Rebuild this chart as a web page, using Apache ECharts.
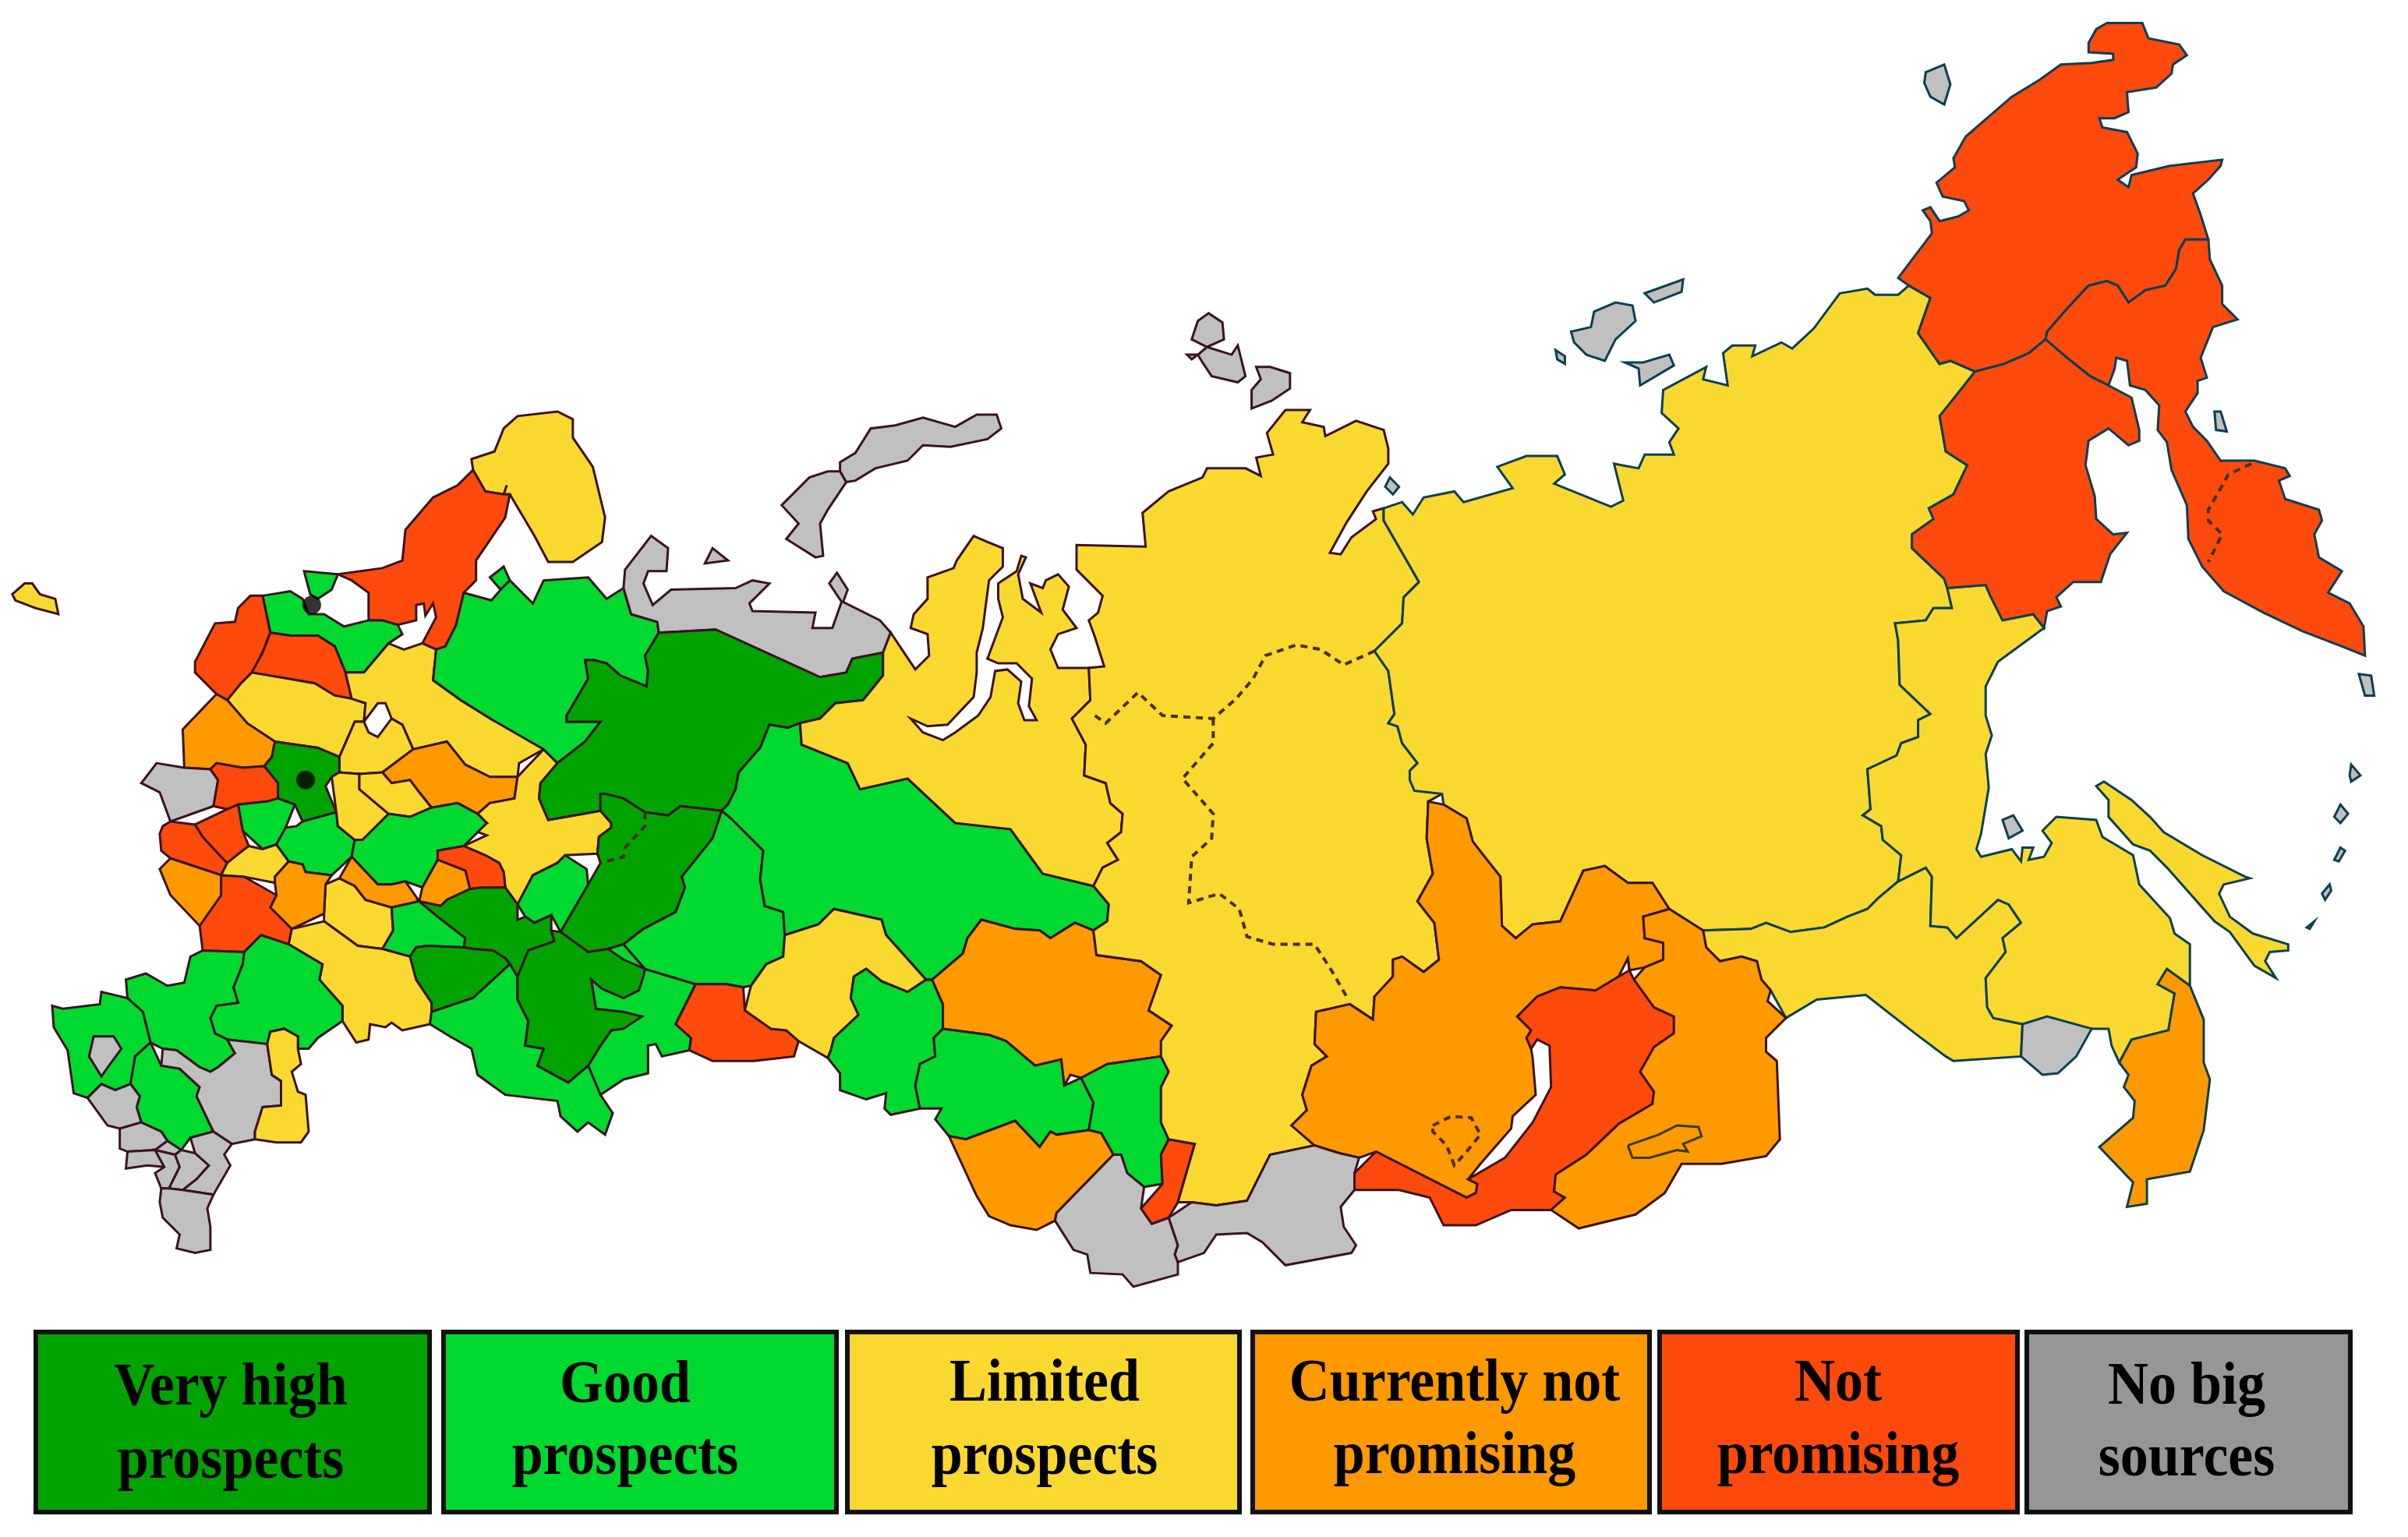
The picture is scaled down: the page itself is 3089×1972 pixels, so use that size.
<!DOCTYPE html>
<html>
<head>
<meta charset="utf-8">
<title>Prospects by region</title>
<style>
html, body { margin: 0; padding: 0; background: #fff; }
#map { width: 3089px; height: 1972px; }
</style>
<script src="https://cdn.jsdelivr.net/npm/echarts@6/dist/echarts.min.js"></script>
</head>
<body>
<div id="map"></div>
<script>
// legend text, one entry per grade
var gradeLabels = [
    ['Very high', 'prospects'],
    ['Good', 'prospects'],
    ['Limited', 'prospects'],
    ['Currently not', 'promising'],
    ['Not', 'promising'],
    ['No big', 'sources']
];

// which regions belong to which grade (index in gradeLabels)
var veryHighRegions = ['Komi', 'Perm', 'Tatarstan', 'Samara', 'Bashkortostan', 'Moscow'];
var goodRegions = ['Arkhangelsk', 'Solovki', 'Leningrad', 'Ladoga', 'Smolensk', 'Tula', 'NizhnyNovgorod', 'Ulyanovsk', 'Udmurtia',
    'Saratov', 'Sverdlovsk', 'Chelyabinsk', 'UfaEast', 'Rostov', 'Stavropol', 'Krasnodar', 'KubanSouth', 'Tyumen', 'Omsk', 'Novosibirsk', 'Tomsk'];
var limitedRegions = ['Kaliningrad', 'Kola', 'Tver', 'Vologda', 'Yaroslavl', 'Ivanovo', 'Ryazan', 'Kirov', 'Orel', 'Penza', 'Volgograd', 'Astrakhan',
    'YamalKhanty', 'Kurgan', 'Krasnoyarsk', 'Sakha', 'Amur', 'Khabarovsk', 'Sakhalin'];
var notYetRegions = ['Pskovsouth', 'Kostroma', 'Lipetsk', 'Kursk', 'Mordovia', 'Tambov', 'Kemerovo', 'AltaiKrai', 'Irkutsk', 'Chita', 'Primorye'];
var notRegions = ['Karelia', 'Pskov', 'Novgorod', 'Kaluga', 'Bryansk', 'Oryol', 'Voronezh', 'Chuvashia', 'Orenburg', 'Khakassia', 'Buryatia',
    'Chukotka', 'Koryak', 'Magadan'];
var noSourceRegions = ['Belarus', 'Azov', 'Kalmykia', 'Caucasus1', 'Caucasus2', 'Caucasus3', 'Caucasus4', 'Caucasus5', 'Caucasus6', 'Dagestan',
    'Nenets', 'NovayaN', 'NovayaS', 'Kolguev', 'Altai', 'Tuva', 'JewishAO', 'Wrangel', 'Shantar', 'Kuril1', 'Kuril2', 'Kuril3', 'Kuril4', 'Kuril5', 'Kuril6', 'Kuril7',
    'Sever1', 'Sever2', 'Sever3', 'Sever4', 'Sib1', 'Sib2', 'Sib3', 'Sib4', 'Vilkitsky'];
var regionsByGrade = [veryHighRegions, goodRegions, limitedRegions, notYetRegions, notRegions, noSourceRegions];

// the two black city dots
var cityPoints = [[203, 394], [199, 508]];

// colours
var gradeColors = ['#00A300', '#00D92F', '#F9D92F', '#FF9900', '#FF4A0D', '#C0C0C0'];
var swatchColors = ['#00A300', '#00D92F', '#F9D92F', '#FF9900', '#FF4A0D', '#969696'];

// region outlines (1568 x 1001 frame), later ones paint over earlier ones
var outlines = {
    Kaliningrad: '8,387 16,380 21,380 26,387 36,390 38,400 23,396 10,391',
    Kola: '307,299 322,294 328,279 337,271 363,268 373,273 373,285 386,304 394,337 392,353 373,366 357,366 348,349 332,322 330,316 328,322 316,320 308,306',
    Karelia: '308,306 316,320 328,323 329,337 310,365 310,378 302,386 297,407 290,421 275,419 284,402 282,393 277,401 276,393 271,394 271,404 259,407 249,404 240,404 240,386 229,378 220,374 249,370 262,365 264,345 282,324 298,316',
    Solovki: '328,369 332,378 326,384 319,376',
    Ladoga: '198,372 219,372 216,384 207,390 202,387',
    Leningrad: '171,388 189,385 197,390 201,400 211,400 224,408 250,404 259,407 262,413 253,419 237,438 225,438 218,421 207,414 189,414 176,412',
    Pskov: '163,388 171,388 176,412 171,425 164,438 157,445 148,456 141,452 127,438 127,431 140,406 153,405 155,396',
    Novgorod: '176,412 189,414 207,414 218,421 225,438 229,455 218,453 205,445 166,439 171,425',
    Tver: '166,439 205,445 218,453 238,458 237,470 228,477 221,493 207,487 179,483 161,471 149,459 157,445',
    Pskovsouth: '141,456 149,459 161,471 179,483 177,493 172,499 158,500 141,497 137,501 120,500 119,475',
    Vologda: '237,458 229,455 225,438 237,438 253,419 263,423 273,419 284,423 282,443 300,456 321,469 342,472 354,488 338,497 337,506 319,506 303,498 291,483 269,488 262,472 255,468 251,458 246,458 240,468',
    Yaroslavl: '231,470 240,477 246,480 255,470 262,472 268,489 249,503 234,504 221,503 221,493',
    Kostroma: '269,488 291,483 303,498 319,506 335,508 335,520 319,523 311,530 298,523 281,526 273,516 267,508 255,510 250,504',
    Moscow: '179,484 207,487 221,495 220,503 212,512 219,529 197,535 192,524 181,520 181,510 172,499',
    Belarus: '102,497 120,501 137,502 142,508 139,525 111,535 104,516 92,510',
    Kaluga: '141,497 158,500 172,499 181,510 181,520 155,524 148,527 140,523 142,508',
    Smolensk: '155,526 174,522 190,524 186,539 171,553 158,541',
    Bryansk: '106,538 127,537 132,545 144,558 144,570 132,566 111,559 105,554 104,543',
    Oryol: '127,533 148,529 155,526 161,543 162,551 148,562 144,558 132,545',
    Orel: '158,554 168,556 180,550 188,561 179,571 179,575 159,571 146,571 146,564',
    Tula: '184,549 193,538 218,533 231,547 229,558 216,570 197,563 188,561',
    Ryazan: '216,506 233,504 234,514 253,530 251,539 236,547 220,538 219,528',
    Ivanovo: '234,504 249,503 255,510 267,508 273,516 278,525 267,532 253,530 234,514',
    Kirov: '337,506 356,488 363,497 352,510 357,534 391,528 398,536 398,539 389,556 368,557 363,562 347,570 337,589 329,578 328,568 316,557 302,551 317,544 303,539 317,536 312,528 319,523 335,520',
    NizhnyNovgorod: '232,547 254,531 267,532 281,526 298,523 312,530 317,537 302,550 285,554 275,578 264,574 255,576 246,576 231,562 231,547',
    Chuvashia: '285,552 302,552 325,562 329,577 306,579 303,567 285,560',
    Mordovia: '284,562 303,566 303,578 291,586 273,587 275,578',
    Penza: '212,576 231,577 238,586 255,591 256,606 249,618 233,616 211,600',
    Tambov: '221,572 231,562 246,576 264,574 271,585 255,591 238,585 231,576',
    Lipetsk: '180,570 192,563 199,568 214,570 211,595 190,605 176,591 180,583',
    Kursk: '104,566 114,560 144,572 144,583 137,601 130,603 111,583',
    Voronezh: '146,571 159,571 176,585 176,593 188,609 188,615 170,609 159,620 132,619 132,605 144,587',
    Ulyanovsk: '256,591 272,588 285,597 303,611 302,617 271,617 267,623 251,620 258,607',
    Volgograd: '210,601 233,616 267,623 271,638 281,653 280,667 262,671 255,666 251,669 241,667 240,677 232,679 223,655 208,638 210,628 188,618 189,608',
    Rostov: '168,610 188,617 210,628 208,638 223,655 223,665 207,676 201,683 194,683 194,675 176,672 174,680 148,677 140,673 137,663 141,655 155,653 152,643 158,628 159,619',
    Stavropol: '124,623 158,622 152,643 155,653 141,655 137,663 140,673 148,677 153,686 142,695 130,695 115,684 106,683 98,679 93,659 83,650 82,638 95,634 109,642 120,640',
    Krasnodar: '34,655 41,657 65,654 66,646 83,648 93,659 98,679 88,688 85,706 75,710 66,706 57,715 48,712 44,684 35,669',
    Azov: '61,675 74,675 79,683 71,694 66,701 58,688',
    KubanSouth: '88,688 98,683 105,694 117,696 130,708 128,714 139,737 124,741 118,749 109,743 92,731 89,721 91,714 85,706',
    Kalmykia: '105,683 117,685 127,692 137,698 150,688 146,677 174,681 177,700 183,704 183,720 171,721 166,737 166,742 151,745 139,738 128,714 130,708 117,696 105,694',
    Astrakhan: '176,673 185,670 196,677 193,686 196,693 190,698 194,711 199,713 201,737 196,744 180,744 166,737 171,721 183,720 183,704 177,700',
    Caucasus1: '58,716 66,707 75,711 85,707 91,715 89,721 91,727 78,735 70,733',
    Caucasus2: '79,733 88,731 105,737 107,746 101,749 78,748',
    Caucasus3: '83,750 104,749 113,745 115,749 115,752 101,752 107,760 96,759 82,761',
    Caucasus4: '101,752 114,752 117,760 110,774 105,774 101,764 107,760',
    Caucasus5: '118,751 127,751 136,759 128,768 119,775 110,774 117,760',
    Caucasus6: '127,743 140,739 149,744 146,752 150,759 139,778 119,776 136,759 127,750',
    Dagestan: '106,778 139,778 135,787 137,799 137,814 127,816 115,813 117,804 106,793 104,783',
    Arkhangelsk: '300,388 320,391 328,378 347,393 354,378 383,376 395,390 406,383 411,400 428,405 429,412 420,427 422,437 421,447 404,440 387,430 381,430 383,442 369,466 369,470 391,470 381,483 363,497 355,488 321,469 300,456 282,443 284,423 297,407',
    Nenets: '407,371 424,349 435,357 434,372 422,372 419,380 425,394 437,384 479,383 490,378 501,380 488,393 490,398 531,399 529,409 542,409 548,392 540,380 545,373 552,384 549,392 573,404 580,412 575,425 555,429 551,438 534,441 466,410 431,412 428,405 411,400',
    NovayaN: '547,301 557,295 567,279 583,277 601,272 622,278 636,270 649,270 652,279 643,286 619,291 601,290 591,300 570,305 557,313 547,307',
    NovayaS: '551,314 539,332 534,341 536,362 531,363 512,351 520,341 509,329 516,322 527,311 539,307',
    Kolguev: '464,357 474,365 459,367',
    Komi: '429,412 466,410 534,441 551,438 555,429 575,425 575,440 562,456 544,458 534,468 521,471 513,474 501,472 495,487 481,503 479,514 474,524 470,528 443,525 435,531 420,529 406,520 391,517 394,517 391,528 357,534 351,520 363,497 381,483 391,470 369,470 369,466 383,442 381,430 395,432 406,438 421,447 422,437 420,427',
    Perm: '369,600 383,576 391,562 390,545 398,539 391,528 391,517 406,520 420,529 435,531 443,525 470,528 464,546 444,571 446,578 440,594 419,605 406,615 396,618 383,620 365,607',
    Udmurtia: '339,589 347,570 363,562 368,557 382,566 382,575 369,601 368,605 359,596 348,601 342,597',
    Tatarstan: '275,588 287,590 313,578 329,580 337,599 347,602 357,597 359,606 361,613 344,619 337,636 329,624 321,619 308,618 304,612 285,597',
    Samara: '269,621 278,616 302,617 307,618 321,619 332,628 308,650 281,659 271,638',
    Saratov: '281,661 308,650 333,631 337,651 344,665 342,681 354,683 350,694 370,705 383,694 396,702 391,713 399,725 394,739 383,731 376,737 365,727 363,717 329,713 311,700 307,683 293,675 281,667',
    UfaEast: '385,638 397,620 406,619 420,631 453,641 440,667 450,676 449,684 431,688 427,680 422,681 422,699 406,703 391,713 383,694 391,681 398,671 388,657',
    Bashkortostan: '337,650 334,637 346,620 365,607 383,620 397,618 406,625 419,636 416,645 406,650 392,644 385,638 388,657 406,659 418,662 406,670 398,671 391,681 382,692 383,698 370,705 350,694 354,683 342,681 344,665',
    Chelyabinsk: '470,528 476,533 497,554 495,573 498,590 510,594 510,623 499,628 489,642 473,641 454,641 420,631 406,619 419,605 440,594 446,578 444,571 464,546',
    Orenburg: '454,641 484,643 485,658 502,670 512,671 520,678 517,688 491,691 464,691 450,684 450,676 440,667',
    Sverdlovsk: '501,472 513,474 521,471 522,485 552,497 560,514 591,507 622,536 658,540 679,569 712,577 722,589 721,600 712,606 700,601 684,611 677,606 661,605 639,599 630,611 627,621 607,638 603,638 577,609 574,599 543,592 533,602 511,609 510,594 498,590 495,573 497,554 476,533 470,528 479,514 481,503 495,487',
    Kurgan: '510,609 533,602 543,592 574,599 577,609 603,638 591,646 574,639 564,631 556,636 554,650 559,661 543,676 539,689 523,681 520,678 512,671 502,670 485,658 488,642 499,628 510,623',
    Tyumen: '556,636 564,631 574,639 591,646 603,640 614,654 614,670 608,676 609,688 599,693 596,707 599,722 580,726 576,722 577,712 564,716 547,710 547,699 541,684 559,661 554,650',
    Kemerovo: '607,639 627,621 639,599 661,605 677,606 684,611 700,601 712,606 714,622 743,626 756,635 748,658 763,668 756,678 756,688 721,693 704,702 697,700 693,707 691,690 674,694 655,678 644,674 616,669 614,654',
    Omsk: '616,670 644,674 674,694 691,690 693,707 703,703 712,718 709,736 688,739 684,737 677,747 661,730 629,742 618,740 609,729 613,722 599,722 596,707 599,693 609,688 608,676',
    Novosibirsk: '704,702 721,693 756,689 761,698 756,708 756,731 761,742 756,752 757,771 745,773 734,764 730,752 717,738 709,736 712,718',
    AltaiKrai: '618,740 629,742 661,730 677,747 684,737 688,739 709,736 717,738 730,751 688,790 687,795 675,801 658,798 644,792 636,779',
    Altai: '725,752 734,764 745,773 743,787 750,797 761,793 767,811 765,817 767,830 738,838 731,830 710,829 708,817 699,814 688,791',
    Khakassia: '760,743 778,745 767,783 750,797 744,787 754,771 756,752',
    YamalKhanty: '579,411 575,421 575,440 562,456 544,458 534,468 521,471 522,485 552,497 560,514 591,507 622,536 658,540 679,569 712,577 718,565 728,560 721,549 730,542 731,530 723,523 720,510 706,505 707,485 698,468 710,456 709,435 689,435 684,423 689,413 701,409 692,397 696,382 689,374 681,378 679,383 671,380 678,399 666,390 663,374 668,363 665,362 662,372 650,380 650,390 653,402 643,429 650,432 662,432 672,442 670,460 675,469 667,469 663,458 665,444 656,436 648,437 645,454 637,466 622,477 614,482 601,477 593,468 604,473 617,472 634,454 636,438 636,425 640,409 644,378 653,369 653,357 643,353 634,349 623,365 621,370 604,376 604,390 595,400 593,409 604,413 605,427 596,436 586,421',
    Krasnoyarsk: '745,356 701,355 701,371 718,388 715,399 709,404 713,415 719,434 709,435 710,456 698,468 707,485 706,505 720,510 723,523 731,530 731,543 720,549 728,560 718,565 712,577 722,589 721,600 712,606 714,621 743,626 756,635 748,658 763,668 756,678 756,689 761,698 756,708 756,731 761,742 778,745 770,783 776,783 792,785 812,782 827,752 856,746 841,733 851,723 848,713 854,694 864,688 856,680 857,659 879,654 894,664 895,649 907,636 907,625 913,623 927,633 937,625 934,601 923,587 933,569 929,546 930,522 939,517 918,508 918,502 923,497 913,484 910,473 904,471 908,465 904,437 895,424 913,406 914,389 924,379 901,339 901,331 894,333 896,338 880,350 873,361 866,360 877,340 890,320 904,302 904,292 901,280 883,274 863,284 862,278 848,275 853,267 837,267 825,282 829,296 818,298 821,310 811,305 786,305 783,311 761,320 744,334 746,356',
    Sakha: '901,333 913,327 920,335 927,324 947,320 953,327 985,318 975,304 994,297 1014,297 1019,309 1012,315 1049,330 1057,326 1051,302 1067,305 1071,296 1090,296 1087,288 1093,279 1082,269 1083,254 1111,239 1109,247 1125,251 1122,230 1128,225 1143,225 1141,232 1160,223 1167,227 1181,214 1198,191 1216,188 1221,192 1236,192 1243,186 1257,194 1249,217 1263,237 1286,242 1275,256 1263,271 1267,294 1281,303 1272,322 1256,331 1259,338 1245,348 1245,357 1266,377 1268,383 1271,396 1259,396 1254,404 1234,406 1236,417 1237,446 1257,465 1249,469 1249,480 1238,484 1235,492 1216,501 1218,527 1213,531 1225,538 1226,547 1238,557 1236,574 1223,585 1216,592 1203,597 1188,604 1166,607 1150,601 1140,605 1109,606 1087,592 1076,575 1060,575 1045,564 1031,567 1016,600 998,602 987,611 978,603 977,571 966,557 959,548 955,533 940,524 939,517 921,515 918,508 918,502 923,497 913,484 910,473 904,471 908,465 904,437 895,424 913,406 914,389 924,379 901,339',
    Amur: '1109,606 1140,605 1150,601 1166,607 1188,604 1203,597 1216,592 1223,585 1236,574 1254,565 1258,571 1257,603 1268,604 1274,611 1301,586 1308,589 1316,601 1304,611 1306,620 1293,637 1294,656 1298,663 1317,667 1316,688 1272,691 1267,688 1247,673 1215,648 1183,651 1163,663 1153,645 1144,626 1134,623 1120,626',
    Khabarovsk: '1270,387 1293,381 1301,398 1304,404 1324,400 1331,409 1301,431 1293,447 1293,466 1297,479 1293,491 1295,513 1290,543 1287,553 1290,558 1310,553 1316,561 1317,552 1324,552 1321,560 1331,558 1336,549 1330,541 1339,532 1365,534 1369,545 1389,557 1393,576 1413,598 1416,608 1426,615 1426,642 1411,631 1405,641 1416,647 1412,671 1388,677 1380,692 1375,681 1373,670 1362,670 1320,667 1298,663 1294,656 1293,637 1306,620 1304,611 1316,601 1308,589 1301,586 1274,611 1268,604 1257,603 1258,571 1254,565 1238,572 1236,560 1226,547 1225,538 1213,531 1218,527 1216,501 1235,492 1238,484 1249,480 1249,469 1257,465 1237,446 1236,417 1234,406 1255,405 1261,396 1271,398',
    JewishAO: '1317,667 1333,662 1362,669 1352,688 1340,699 1330,700 1316,686',
    Primorye: '1411,631 1426,644 1435,664 1435,692 1439,703 1435,736 1426,763 1398,768 1398,784 1385,786 1389,770 1367,747 1389,728 1390,717 1383,708 1386,700 1382,692 1388,677 1412,671 1416,647 1405,641',
    Sakhalin: '1365,512 1370,509 1388,521 1400,532 1409,542 1434,557 1462,571 1465,572 1448,576 1445,582 1452,597 1467,608 1490,615 1490,619 1478,620 1475,626 1482,637 1468,629 1452,607 1442,600 1411,565 1400,554 1389,550 1373,532 1373,521',
    Shantar: '1304,534 1311,531 1317,541 1308,546',
    Kuril1: '1536,439 1544,440 1546,453 1540,453',
    Kuril2: '1531,498 1537,505 1531,509 1530,505',
    Kuril3: '1524,524 1529,530 1524,536 1520,532',
    Kuril4: '1524,552 1527,554 1523,561 1520,560',
    Kuril5: '1517,576 1518,580 1514,586 1512,582',
    Kuril6: '1507,600 1504,605 1502,604',
    Kuril7: '1442,268 1446,268 1450,281 1443,280',
    Irkutsk: '939,522 955,533 959,548 966,557 977,571 978,603 987,611 998,602 1016,600 1031,567 1045,564 1060,575 1076,575 1087,592 1070,597 1071,611 1083,614 1083,625 1071,630 1061,632 1060,624 1054,636 1039,645 1016,643 1001,649 988,662 997,671 994,676 998,689 1000,713 985,727 984,735 964,758 956,768 962,771 961,777 955,780 896,750 885,754 872,751 856,745 841,733 851,723 848,713 854,694 864,688 856,680 857,659 879,654 894,664 895,649 907,636 907,625 913,623 927,633 937,625 934,601 923,587 933,569 929,546 930,522',
    Tuva: '761,793 776,782 792,785 812,782 827,752 856,746 872,751 883,753 882,775 873,786 875,799 883,811 880,816 837,824 822,809 812,803 792,804 784,816 767,822 765,817 767,811',
    Buryatia: '988,662 1001,649 1016,643 1039,645 1054,636 1061,624 1064,638 1077,656 1090,662 1090,673 1077,682 1068,698 1077,711 1076,719 1054,732 1033,752 1013,765 1012,776 1019,780 1010,788 984,788 961,798 940,798 931,780 911,775 883,775 882,764 896,750 955,780 961,777 962,771 956,769 980,754 998,731 1010,708 1009,681 1001,677 997,683 994,676 997,671',
    Chita: '1087,593 1109,606 1111,617 1119,628 1134,623 1144,628 1147,638 1154,645 1151,652 1162,664 1150,676 1150,685 1157,691 1159,742 1150,753 1121,758 1095,758 1084,777 1065,791 1028,800 1010,788 1019,780 1012,776 1013,765 1033,752 1054,732 1076,719 1077,711 1068,698 1077,682 1090,673 1090,662 1077,656 1064,638 1071,630 1083,625 1083,614 1071,611 1070,597',
    Chukotka: '1236,181 1258,152 1257,144 1252,137 1257,135 1263,144 1275,141 1282,137 1279,131 1265,128 1261,119 1273,109 1272,103 1280,89 1295,76 1310,63 1328,52 1342,42 1362,41 1376,39 1376,35 1360,34 1360,28 1365,19 1372,15 1395,15 1399,25 1419,29 1424,36 1415,42 1414,48 1404,57 1385,60 1386,73 1377,77 1367,77 1369,83 1385,86 1392,100 1391,109 1379,117 1386,122 1388,114 1413,108 1447,104 1446,108 1438,117 1428,126 1433,140 1438,156 1423,156 1419,163 1417,175 1410,186 1397,189 1386,197 1379,186 1372,183 1360,186 1346,201 1333,216 1332,221 1321,230 1305,237 1288,241 1270,235 1263,237 1249,217 1257,194 1243,186',
    Koryak: '1333,216 1346,201 1360,186 1372,183 1379,186 1386,197 1397,189 1410,186 1417,175 1419,163 1423,156 1438,156 1439,169 1447,186 1447,198 1457,208 1441,213 1433,233 1437,246 1431,248 1431,256 1423,268 1428,278 1437,287 1446,300 1456,300 1468,300 1488,305 1491,310 1484,313 1488,325 1510,332 1512,339 1507,348 1510,363 1525,372 1516,386 1530,393 1539,408 1540,427 1525,421 1499,411 1474,399 1448,385 1434,369 1425,351 1424,329 1414,306 1411,288 1405,280 1406,264 1397,254 1387,251 1385,235 1378,233 1377,240 1373,251 1361,245 1346,233 1333,221',
    Magadan: '1333,221 1346,233 1361,245 1373,251 1388,259 1393,280 1393,287 1386,290 1373,279 1360,287 1358,303 1364,323 1365,338 1376,348 1385,347 1374,361 1368,379 1350,379 1339,389 1342,395 1333,398 1328,406 1323,401 1305,404 1296,388 1289,380 1268,383 1266,377 1245,357 1245,348 1259,338 1256,331 1272,322 1281,303 1267,294 1263,271 1275,256 1286,242 1305,237 1321,230',
    Wrangel: '1254,47 1266,42 1270,55 1266,68 1257,63 1253,54',
    Sever1: '780,209 787,204 796,210 797,221 786,226 776,221',
    Sever2: '786,228 802,231 806,225 811,245 806,249 789,245 783,236',
    Sever3: '818,239 827,239 840,243 840,253 828,261 815,266 815,254 821,247',
    Sever4: '773,231 780,231 776,234',
    Sib1: '1023,216 1036,213 1038,203 1052,197 1063,199 1065,209 1052,221 1045,235 1033,231 1025,223',
    Sib2: '1071,191 1096,182 1095,190 1077,197',
    Sib3: '1058,236 1070,236 1087,231 1090,238 1068,251 1067,240',
    Sib4: '1013,228 1019,232 1019,237 1014,234',
    Vilkitsky: '905,311 911,317 907,322 902,317'
};

// dashed okrug borders and the two closed enclaves
var dashedBorders = [
    '895,424 875,433 860,423 844,420 824,427 816,442 805,455 790,468 757,466 741,451 720,471 710,464',
    '790,468 790,484 770,507 790,530 789,546 776,558 774,588 794,582 807,592 812,610 829,615 856,615 867,632 878,651',
    '933,733 945,727 958,728 964,739 955,750 947,759 942,746 933,737 933,733',
    '1466,302 1451,309 1446,318 1438,332 1438,339 1447,348 1438,366',
    '420,529 420,538 407,552 406,558 391,562'
];
var solidBorders = ['1060,746 1080,739 1092,733 1106,734 1108,740 1096,745 1099,750 1092,749 1074,754 1063,754 1060,746'];

var eastRegions = ['Sakha', 'Amur', 'Khabarovsk', 'JewishAO', 'Primorye', 'Sakhalin', 'Shantar', 'Chukotka', 'Koryak', 'Magadan', 'Wrangel',
    'Kuril1', 'Kuril2', 'Kuril3', 'Kuril4', 'Kuril5', 'Kuril6', 'Kuril7', 'Sib1', 'Sib2', 'Sib3', 'Sib4', 'Vilkitsky'];

var snapDistance = 4.5;

function parseRing(text) {
    return text.split(' ').map(function (pair) {
        return pair.split(',').map(Number);
    });
}

function dist(a, b) {
    return Math.sqrt((a[0] - b[0]) * (a[0] - b[0]) + (a[1] - b[1]) * (a[1] - b[1]));
}

// neighbouring outlines were traced one by one, so pull their corners together
function mergeCorners(rings) {
    for (var i = 0; i < rings.length; i++) {
        for (var j = i + 1; j < rings.length; j++) {
            rings[i].forEach(function (a) {
                rings[j].forEach(function (b) {
                    if (dist(a, b) < snapDistance) {
                        b[0] = a[0];
                        b[1] = a[1];
                    }
                });
            });
        }
    }
}

// and give an edge the corners of its neighbour that lie right next to it
function insertCorners(rings) {
    return rings.map(function (ring, j) {
        var out = [];
        ring.forEach(function (p, n) {
            var q = ring[(n + 1) % ring.length];
            var dx = q[0] - p[0], dy = q[1] - p[1];
            var len2 = dx * dx + dy * dy;
            var hits = [];
            out.push(p);
            if (len2 === 0) {
                return;
            }
            rings.forEach(function (other, i) {
                if (i === j) {
                    return;
                }
                other.forEach(function (a) {
                    var t = ((a[0] - p[0]) * dx + (a[1] - p[1]) * dy) / len2;
                    if (t <= 0 || t >= 1 || dist(a, p) < 0.5 || dist(a, q) < 0.5) {
                        return;
                    }
                    if (dist(a, [p[0] + t * dx, p[1] + t * dy]) < snapDistance) {
                        hits.push({ t: t, a: a });
                    }
                });
            });
            hits.sort(function (h1, h2) {
                return h1.t - h2.t;
            });
            hits.forEach(function (h) {
                out.push([h.a[0], h.a[1]]);
            });
        });
        return out;
    });
}

function buildGeoJson() {
    var names = Object.keys(outlines);
    var rings = names.map(function (name) {
        return parseRing(outlines[name]);
    });
    mergeCorners(rings);
    rings = insertCorners(rings);
    var features = names.map(function (name, i) {
        var ring = rings[i];
        ring.push(ring[0]);
        return {
            type: 'Feature',
            properties: { name: name },
            geometry: { type: 'Polygon', coordinates: [ring] }
        };
    });
    return { type: 'FeatureCollection', features: features };
}

function getRegionData() {
    var data = [];
    for (var g = 0; g < regionsByGrade.length; g++) {
        for (var i = 0; i < regionsByGrade[g].length; i++) {
            data.push({ name: regionsByGrade[g][i], value: g });
        }
    }
    return data;
}

function getBorderLines(list) {
    return list.map(function (text) {
        return { coords: parseRing(text) };
    });
}

// legend boxes sit below the map
var boxLefts = [46, 569, 1087, 1607, 2129, 2600];
var boxRights = [551, 1073, 1590, 2116, 2588, 3015];
var textCenters = [296, 802, 1340, 1866, 2358, 2805];
var firstBaselines = [1803, 1800, 1798, 1798, 1798, 1802];
var secondBaselines = [1897, 1892, 1892, 1891, 1891, 1894];
var baselineGap = 18;

function getLegendGraphics() {
    var items = [];
    for (var i = 0; i < gradeLabels.length; i++) {
        items.push({
            type: 'rect',
            shape: { x: boxLefts[i], y: 1709, width: boxRights[i] - boxLefts[i], height: 231 },
            style: { fill: swatchColors[i], stroke: '#111', lineWidth: 6 }
        });
        for (var k = 0; k < 2; k++) {
            items.push({
                type: 'text',
                x: textCenters[i],
                y: (k === 0 ? firstBaselines[i] : secondBaselines[i]) + baselineGap,
                scaleY: 1.08,
                style: {
                    text: gradeLabels[i][k],
                    fill: '#000',
                    font: 'bold 72px "Liberation Serif"',
                    textAlign: 'center',
                    textVerticalAlign: 'bottom'
                }
            });
        }
    }
    return items;
}

echarts.registerMap('russia', buildGeoJson());

var chart = echarts.init(document.getElementById('map'));

var pieces = gradeColors.map(function (color, i) {
    return { value: i, color: color };
});

var option = {
    animation: false,
    backgroundColor: '#fff',
    visualMap: {
        show: false,
        type: 'piecewise',
        seriesIndex: 0,
        pieces: pieces
    },
    geo: {
        map: 'russia',
        roam: false,
        silent: true,
        left: 0,
        top: 0,
        width: 3089,
        height: 1972,
        projection: {
            project: function (p) { return p; },
            unproject: function (p) { return p; }
        },
        boundingCoords: [[0, 0], [1568, 1001]],
        label: { show: false },
        itemStyle: { borderColor: '#3a1420', borderWidth: 3 },
        regions: eastRegions.map(function (name) {
            return { name: name, itemStyle: { borderColor: '#0b3f52', borderWidth: 3 } };
        })
    },
    series: [
        {
            name: 'grade',
            type: 'map',
            geoIndex: 0,
            silent: true,
            data: getRegionData()
        },
        {
            type: 'lines',
            coordinateSystem: 'geo',
            polyline: true,
            silent: true,
            lineStyle: { color: '#4a3010', width: 4, type: [9, 7], opacity: 1 },
            data: getBorderLines(dashedBorders)
        },
        {
            type: 'lines',
            coordinateSystem: 'geo',
            polyline: true,
            silent: true,
            lineStyle: { color: '#3a3a10', width: 3, opacity: 1 },
            data: getBorderLines(solidBorders)
        },
        {
            type: 'scatter',
            coordinateSystem: 'geo',
            silent: true,
            symbol: 'circle',
            symbolSize: 24,
            itemStyle: { color: '#000' },
            data: cityPoints
        }
    ],
    graphic: { elements: getLegendGraphics() }
};

chart.setOption(option);
</script>
</body>
</html>
